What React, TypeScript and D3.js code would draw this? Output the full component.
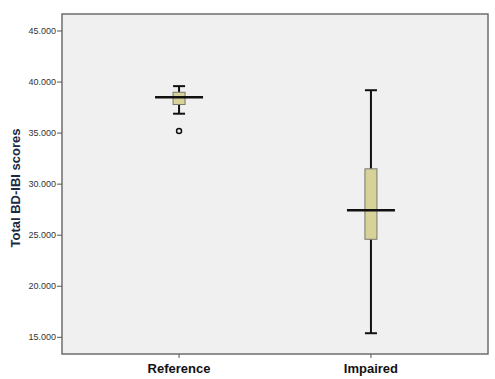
import React from "react";
import * as d3 from "d3";

const categories = ["Reference", "Impaired"];
const q1 = [37.8, 24.6];
const median = [38.5, 27.45];
const q3 = [39.0, 31.5];
const whiskerLow = [36.9, 15.4];
const whiskerHigh = [39.6, 39.2];
const outliers = [[35.2], []];
const yTicks = [15, 20, 25, 30, 35, 40, 45];

export default function App() {
  const W = 495, H = 379;
  const left = 62, right = 488, top = 14, bottom = 354;
  const y = d3.scaleLinear().domain([15, 45]).range([337.3, 31]);
  const x = d3.scalePoint<string>().domain(categories).range([left, right]).padding(0.61);
  const fmt = d3.format(".3f");
  const boxW = 12, capW = 12, medW = 48;
  return (
    <svg width={W} height={H} style={{ position: "absolute", left: 0, top: 0 }}>
      <rect x={0} y={0} width={W} height={H} fill="#ffffff" />
      <rect x={left} y={top} width={right - left} height={bottom - top} fill="#f0f0f0" stroke="#6e6e6e" strokeWidth={1.5} />
      {yTicks.map((t) => (
        <g key={t}>
          <line x1={left - 5} x2={left} y1={y(t)} y2={y(t)} stroke="#555" strokeWidth={1} />
          <text x={left - 6} y={y(t)} dy="0.35em" textAnchor="end" fontFamily="Arial, Liberation Sans, sans-serif" fontSize={9} fill="#333">
            {fmt(t)}
          </text>
        </g>
      ))}
      {categories.map((c) => (
        <g key={c}>
          <line x1={x(c)} x2={x(c)} y1={bottom} y2={bottom + 4} stroke="#555" strokeWidth={1} />
          <text x={x(c)} y={bottom + 19} textAnchor="middle" fontFamily="Arial, Liberation Sans, sans-serif" fontWeight="bold" fontSize={13} fill="#111">
            {c}
          </text>
        </g>
      ))}
      <text
        transform={`translate(20,${(top + bottom) / 2 + 4}) rotate(-90)`}
        textAnchor="middle"
        fontFamily="Arial, Liberation Sans, sans-serif"
        fontWeight="bold"
        fontSize={13}
        fill="#1b2a44"
      >
        Total BD-IBI scores
      </text>
      {categories.map((c, i) => {
        const cx = x(c) as number;
        return (
          <g key={c}>
            <line x1={cx} x2={cx} y1={y(whiskerHigh[i])} y2={y(q3[i])} stroke="#111" strokeWidth={2} />
            <line x1={cx} x2={cx} y1={y(q1[i])} y2={y(whiskerLow[i])} stroke="#111" strokeWidth={2} />
            <line x1={cx - capW / 2} x2={cx + capW / 2} y1={y(whiskerHigh[i])} y2={y(whiskerHigh[i])} stroke="#111" strokeWidth={2} />
            <line x1={cx - capW / 2} x2={cx + capW / 2} y1={y(whiskerLow[i])} y2={y(whiskerLow[i])} stroke="#111" strokeWidth={2} />
            <rect x={cx - boxW / 2} y={y(q3[i])} width={boxW} height={y(q1[i]) - y(q3[i])} fill="#d6d29a" stroke="#77776a" strokeWidth={1} />
            <line x1={cx - medW / 2} x2={cx + medW / 2} y1={y(median[i])} y2={y(median[i])} stroke="#111" strokeWidth={2.5} />
            {outliers[i].map((o, j) => (
              <circle key={j} cx={cx} cy={y(o)} r={2.5} fill="none" stroke="#111" strokeWidth={1.5} />
            ))}
          </g>
        );
      })}
    </svg>
  );
}
